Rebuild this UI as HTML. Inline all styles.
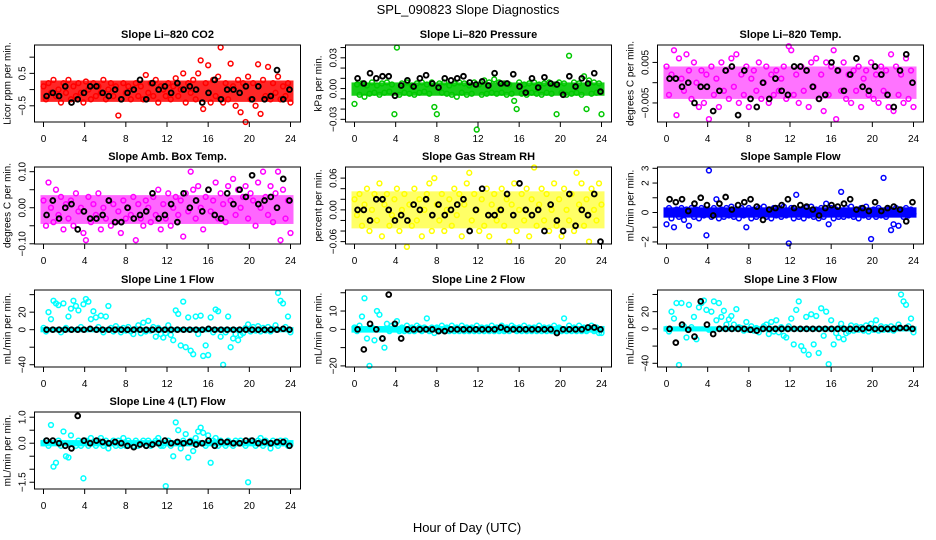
<!DOCTYPE html>
<html><head><meta charset="utf-8">
<style>
html,body{margin:0;padding:0;background:#fff;}
svg{display:block;font-family:"Liberation Sans",sans-serif;}
</style></head>
<body>
<svg id="fig" width="936" height="540" viewBox="0 0 936 540" xmlns="http://www.w3.org/2000/svg">
<rect width="936" height="540" fill="#fff"/>
<text x="468" y="14" text-anchor="middle" font-size="13">SPL_090823  Slope Diagnostics</text>
<text x="467" y="532" text-anchor="middle" font-size="13">Hour of Day (UTC)</text>
</svg>
<script>
const xTicks = [0,4,8,12,16,20,24];

const co2Vals = [0.1,-0.3,0.2,-0.1,0.3,-0.2,0.0,-0.4,0.2,-0.1,0.3,-0.3,0.1,-0.2,0.2,-0.1,-0.4,0.25,0.0,-0.3,0.2,-0.2,0.1,-0.1,0.3,-0.3,0.0,0.2,-0.2,0.1,-0.8,-0.3,0.2,-0.1,0.1,-0.3,0.0,0.2,-0.2,0.1,-0.3,0.45,-0.1,0.2,-0.2,0.3,-0.4,0.1,0.0,-0.2,0.2,-0.3,0.1,0.35,-0.2,0.0,0.5,-0.4,0.2,-0.1,0.3,-0.3,0.5,0.9,-0.6,0.2,0.75,-0.4,0.3,-0.2,0.4,1.3,-0.4,0.2,-0.3,0.8,0.1,-0.5,0.3,-0.7,0.2,-1.0,0.4,-0.3,0.2,-0.5,0.78,-0.75,0.3,-0.2,0.7,-0.3,0.2,-0.1,0.4,-0.3,0.1,-0.2,0.2,-0.4];
const co2Black = [-0.2,-0.1,-0.2,0.1,-0.4,-0.3,-0.1,0.1,0.1,-0.1,-0.2,0.0,-0.3,-0.1,0.0,0.3,-0.3,0.2,0.0,0.1,-0.1,0.2,0.0,0.1,0.0,-0.4,-0.1,0.3,-0.3,0.0,0.0,-0.1,0.1,-0.3,0.1,-0.3,-0.2,0.6,-0.3,0.0];
const co2Band = [-0.38,0.28];

const presVals = [-0.015,0.004,-0.006,0.005,-0.008,0.003,-0.005,0.006,-0.004,0.003,-0.006,0.005,-0.004,0.006,-0.003,0.004,-0.025,0.04,-0.006,0.005,-0.004,0.006,-0.005,0.003,-0.006,0.005,-0.004,0.006,-0.003,0.004,-0.005,0.006,-0.018,-0.025,0.005,-0.004,0.006,-0.005,0.003,-0.006,0.005,-0.008,0.006,-0.004,0.005,-0.006,0.003,-0.005,0.006,-0.04,0.004,-0.006,0.008,-0.005,0.006,-0.004,0.009,-0.005,0.006,-0.004,0.005,-0.006,0.004,-0.005,-0.012,-0.02,0.006,-0.005,0.004,-0.006,0.005,-0.004,0.006,-0.005,0.004,-0.006,0.005,-0.004,0.006,-0.005,0.004,-0.025,0.006,-0.004,0.005,-0.006,0.032,-0.005,0.006,-0.004,0.005,-0.006,0.012,-0.02,0.008,-0.005,0.006,-0.004,0.005,-0.025];
const presBlack = [0.01,0.005,0.015,0.01,0.012,0.012,-0.007,0.003,0.008,0.002,0.01,0.013,0.005,0.001,0.01,0.008,0.01,0.012,0.006,0.004,0.007,0.003,0.015,0.005,0.005,0.014,0.002,-0.004,0.01,0.001,0.011,0.005,0.004,-0.006,0.012,0.002,0.01,0.005,0.015,-0.003];
const presBand = [-0.007,0.006];

const tempVals = [0.004,-0.003,0.002,0.008,-0.008,0.006,0.001,-0.002,0.007,0.003,-0.004,0.005,0.0,-0.006,0.003,-0.005,0.002,-0.009,0.004,-0.003,0.001,-0.006,0.005,-0.002,0.003,-0.004,0.006,-0.001,0.007,-0.005,0.002,-0.003,0.004,-0.006,0.001,0.003,-0.002,0.005,-0.004,0.0,0.004,-0.005,0.002,-0.003,0.003,-0.002,0.001,0.004,-0.004,0.009,0.008,-0.003,0.002,-0.005,0.004,-0.002,0.003,-0.006,0.005,-0.001,0.006,-0.004,0.002,-0.007,0.005,-0.003,0.004,0.008,-0.009,0.003,-0.002,0.005,-0.004,0.002,-0.005,0.003,-0.002,0.004,-0.006,0.001,0.003,-0.003,0.005,-0.004,0.002,-0.005,0.004,-0.002,0.003,-0.006,0.007,-0.007,0.004,-0.003,0.002,-0.005,0.006,-0.004,0.003,-0.006];
const tempBlack = [0.001,0.001,-0.001,0.0,-0.005,-0.001,-0.001,-0.007,-0.002,0.003,0.004,-0.008,0.003,-0.004,-0.006,0.0,-0.004,0.001,-0.002,-0.003,0.004,0.004,0.003,-0.001,-0.004,-0.003,0.005,0.003,-0.002,0.002,0.006,-0.001,-0.002,0.004,0.002,-0.003,-0.006,0.003,0.007,0.0];
const tempBand = [-0.004,0.004];

const ambVals = [0.02,-0.05,0.07,0.0,-0.04,0.05,-0.02,0.03,-0.06,0.01,-0.03,0.02,-0.05,0.04,-0.01,0.0,-0.07,-0.09,0.03,-0.04,0.01,-0.02,0.04,-0.06,0.0,-0.03,0.02,-0.05,0.01,-0.04,-0.01,-0.07,0.02,-0.03,0.0,-0.02,0.03,-0.09,0.01,-0.03,-0.05,0.02,0.0,-0.04,0.03,-0.02,0.05,-0.06,0.01,-0.03,0.04,-0.05,0.0,0.03,-0.02,0.02,-0.08,0.04,-0.01,0.1,0.05,-0.03,0.06,0.0,-0.06,0.03,0.05,-0.01,0.02,0.07,-0.03,0.04,0.01,-0.04,0.06,0.02,0.08,-0.02,0.05,0.0,0.03,0.06,-0.03,0.04,0.02,-0.05,0.07,0.0,0.1,0.03,-0.02,0.06,-0.04,0.04,0.1,-0.09,0.05,-0.03,0.02,-0.07];
const ambBlack = [-0.02,0.02,-0.03,0.0,0.01,-0.06,-0.01,-0.03,-0.03,-0.02,0.02,-0.04,-0.04,0.0,-0.03,-0.02,-0.01,0.04,-0.03,-0.02,0.01,-0.04,0.04,0.0,0.02,-0.01,0.05,-0.02,-0.03,0.04,0.01,0.05,0.03,0.09,0.01,0.02,0.03,0.0,0.08,0.02];
const ambBand = [-0.045,0.035];

const rhVals = [0.02,-0.01,0.03,-0.03,0.01,0.04,-0.04,0.0,0.03,-0.02,0.05,-0.05,0.01,0.03,-0.03,-0.01,0.02,0.04,-0.04,0.0,0.03,-0.07,0.01,-0.03,0.04,-0.02,0.02,-0.05,0.0,0.03,0.05,-0.04,0.06,0.01,-0.02,0.03,-0.04,0.0,0.02,-0.03,0.04,-0.01,0.03,-0.05,0.01,0.05,0.07,-0.02,0.03,0.0,-0.04,0.02,-0.03,0.04,-0.05,0.01,0.03,-0.02,0.0,0.04,-0.03,0.02,-0.06,0.01,0.05,-0.04,0.0,0.03,-0.02,0.04,-0.05,0.02,0.08,-0.03,0.01,0.04,-0.02,0.03,-0.04,0.0,0.05,-0.03,0.02,-0.05,0.04,0.0,-0.02,0.03,-0.04,0.07,0.01,0.05,-0.03,0.02,-0.06,0.04,0.0,-0.02,0.05,0.01];
const rhBlack = [0.0,0.0,-0.02,0.02,0.02,0.0,-0.02,-0.01,-0.02,0.01,0.0,0.02,-0.01,0.01,-0.01,0.0,0.01,0.02,-0.04,0.0,0.04,-0.01,-0.01,0.0,0.03,-0.01,0.05,0.0,-0.01,0.0,-0.04,0.01,-0.02,-0.04,0.03,-0.03,0.0,-0.01,0.03,-0.06];
const rhBand = [-0.035,0.035];

const flowVals = [-0.8,0.3,-0.4,-1.0,0.2,-0.3,0.3,-0.5,0.2,-0.9,0.3,-0.3,0.2,-0.4,0.3,-0.2,-1.55,2.85,-0.3,0.3,0.9,-0.4,0.2,-0.3,0.3,-0.2,0.4,-0.3,0.2,-0.4,0.3,-0.2,-1.0,0.3,-0.4,0.2,-0.3,0.3,-0.2,0.4,-0.3,0.2,-0.4,0.3,-0.2,0.3,-0.3,0.4,-0.2,-2.1,0.3,-0.4,1.2,-0.3,0.2,-0.4,0.3,-0.2,0.4,-0.3,0.2,-0.4,0.3,-0.3,0.6,-0.8,0.3,-0.4,0.2,-0.3,1.4,-0.3,0.3,-0.2,0.4,-0.3,0.2,-0.4,0.3,-0.2,0.4,-0.3,-1.8,0.2,-0.3,0.3,-0.2,2.35,-0.3,0.2,-1.2,-0.8,0.3,-0.9,0.2,-0.3,0.3,-0.2,0.2,-0.1];
const flowBlack = [0.9,0.7,0.9,0.1,0.6,1.0,0.5,-0.2,0.6,1.05,0.2,0.5,0.7,0.9,0.4,-0.5,0.2,0.3,0.5,0.9,0.3,0.5,0.4,0.2,-0.2,0.3,0.5,0.4,0.6,0.9,0.2,0.3,0.1,0.7,0.1,0.3,0.4,0.2,-0.6,0.7];
const flowBand = [-0.35,0.35];

const line1Vals = [2,-2,20,12,33,30,28,-3,30,2,15,24,33,27,22,3,29,35,32,12,21,14,3,16,-3,15,27,2,-2,4,1,-3,2,-1,3,-2,-5,1,5,-4,8,-2,10,-1,3,-8,2,-5,-9,-4,5,-6,-12,22,18,-18,32,-20,14,-24,-28,15,-5,16,-30,-18,-29,14,-3,23,21,-8,-40,-3,15,-20,-10,-5,-12,-6,-4,2,6,-2,3,-1,4,-2,2,-1,3,-2,1,5,42,33,30,3,15,-3];
const line1Black = [0,0,0,0,0,0,0,1,0,0,0,0,0,0,0,0,0,0,0,0,0,0,0,0,0,0,1,0,0,0,0,0,0,0,0,0,0,0,1,0];
const line1Band = [-3,3];

const line2Vals = [1,-1,2,7,17,-5,-20,1,-6,10,8,-5,-10,3,-1,2,1,4.5,-1,1,-1,2,-1,1,-1,2,1,-1,1,6,-1,1,-2,1,-1,2,-1,1,-1,2,-1,1,-1,2,-1,1,-1,1,-1,2,-1,1,-1,1,-1,2,-1,1,-1,2,-1,1,-1,2,1,-1,1,-1,2,-1,1,-1,1,-1,2,-1,1,-1,1,-1,2,-1,1,-1,6,-1,2,-1,1,-1,2,-1,1,-1,1,2,-1,1,-2,-2];
const line2Black = [0,-11,3,0,-5,19,3,-5,0,0,0,0,0,-1,-1,0,0,0,0,0,0,0,0,1,0,0,0,0,0,0,0,0,-2,0,0,0,0,1,1,0];
const line2Band = [-1.8,1.8];

const line3Vals = [0,-3,20,12,30,-42,30,3,-10,28,2,14,-12,25,30,33,22,-1,20,32,10,30,14,21,5,11,15,5,23,2,1,-2,8,-1,3,-2,1,-4,0,3,5,-6,8,-3,10,-4,2,-8,-10,3,12,-18,22,32,-20,-25,14,-30,17,-18,15,-28,24,-8,20,-41,10,-18,-5,-10,6,-12,-5,-3,4,-2,3,-1,2,-2,4,-3,6,-1,10,-2,3,-1,2,-1,3,-2,1,5,40,32,28,3,12,-4];
const line3Black = [0,-16,5,-1,-9,32,5,-6,0,0,0,0,0,-1,-2,0,0,0,0,0,0,0,0,0,0,0,0,0,0,0,0,0,1,0,0,0,0,1,1,0];
const line3Band = [-3,3];

const line4Vals = [0.0,0.1,-0.1,0.7,-0.9,-0.75,0.1,-0.1,0.45,-0.5,-0.55,0.3,0.0,-0.1,0.1,-0.1,-1.35,0.1,-0.1,0.2,0.0,-0.1,0.1,0.2,-0.1,0.1,-0.2,0.0,0.1,-0.1,0.1,-0.1,0.2,-0.1,0.1,0.0,-0.1,0.1,-0.1,0.0,0.1,-0.1,0.1,-0.1,0.0,0.1,0.2,-0.1,-0.1,-1.65,0.1,-0.1,-0.5,0.8,0.5,-0.2,0.1,0.35,-0.55,0.1,-0.3,0.2,0.45,0.6,0.4,-0.1,0.3,-0.75,0.1,0.2,-0.1,0.1,0.0,-0.1,0.1,0.0,-0.1,0.1,0.0,0.1,0.0,-0.1,-1.5,0.1,0.0,-0.1,0.1,0.2,-0.1,0.1,0.0,-0.2,0.1,0.0,-0.1,0.1,0.0,0.1,-0.1,0.0];
const line4Black = [0.1,0.1,0.0,-0.1,-0.2,1.05,0.1,0.0,0.1,0.05,0.0,0.05,0.0,-0.1,-0.15,-0.05,-0.1,-0.05,0.0,0.1,0.0,0.05,0.0,0.05,-0.05,0.0,0.1,-0.1,0.05,0.05,0.0,0.0,0.1,0.1,0.0,0.05,0.0,0.05,0.05,-0.1];
const line4Band = [-0.12,0.12];

const panels = [
 {name:'co2',title:'Slope Li\u2013820 CO2',ylab:'Licor ppm per min.',col:0,row:0,color:'#ff0000',vals:co2Vals,blk:co2Black,band:co2Band,bo:0.85,ymin:-1.0,ymax:1.375,ticks:[-0.5,0,0.5,1.0],labels:['-0.5','','0.5','']},
 {name:'pressure',title:'Slope Li\u2013820 Pressure',ylab:'kPa per min.',col:1,row:0,color:'#00c800',vals:presVals,blk:presBlack,band:presBand,bo:0.9,ymin:-0.0326,ymax:0.0425,ticks:[-0.03,-0.02,-0.01,0,0.01,0.02,0.03,0.04],labels:['-0.03','','','0.00','','','0.03','']},
 {name:'temp',title:'Slope Li\u2013820 Temp.',ylab:'degrees C per min.',col:2,row:0,color:'#ff00ff',vals:tempVals,blk:tempBlack,band:tempBand,bo:0.55,ymin:-0.0097,ymax:0.0093,ticks:[-0.005,0,0.005],labels:['-0.005','','0.005']},
 {name:'amb-box-temp',title:'Slope Amb. Box Temp.',ylab:'degrees C per min.',col:0,row:1,color:'#ff00ff',vals:ambVals,blk:ambBlack,band:ambBand,bo:0.6,ymin:-0.1006,ymax:0.113,ticks:[-0.1,-0.05,0,0.05,0.1],labels:['-0.10','','0.00','','0.10']},
 {name:'gas-stream-rh',title:'Slope Gas Stream RH',ylab:'percent per min.',col:1,row:1,color:'#ffff00',vals:rhVals,blk:rhBlack,band:rhBand,bo:0.6,ymin:-0.0645,ymax:0.081,ticks:[-0.06,-0.04,-0.02,0,0.02,0.04,0.06],labels:['-0.06','','','0.00','','','0.06']},
 {name:'sample-flow',title:'Slope Sample Flow',ylab:'mL/min per min.',col:2,row:1,color:'#0000ff',vals:flowVals,blk:flowBlack,band:flowBand,bo:1,ymin:-2.14,ymax:3.09,ticks:[-2,-1,0,1,2,3],labels:['-2','','0','','2','3']},
 {name:'line1-flow',title:'Slope Line 1 Flow',ylab:'mL/min per min.',col:0,row:2,color:'#00ffff',vals:line1Vals,blk:line1Black,band:line1Band,bo:1,ymin:-42.6,ymax:45.3,ticks:[-40,-20,0,20,40],labels:['-40','','0','20','']},
 {name:'line2-flow',title:'Slope Line 2 Flow',ylab:'mL/min per min.',col:1,row:2,color:'#00ffff',vals:line2Vals,blk:line2Black,band:line2Band,bo:1,ymin:-20.6,ymax:21.5,ticks:[-20,-10,0,10,20],labels:['-20','','0','10','']},
 {name:'line3-flow',title:'Slope Line 3 Flow',ylab:'mL/min per min.',col:2,row:2,color:'#00ffff',vals:line3Vals,blk:line3Black,band:line3Band,bo:1,ymin:-44.3,ymax:45.2,ticks:[-40,-20,0,20,40],labels:['-40','','0','20','']},
 {name:'line4-lt-flow',title:'Slope Line 4 (LT) Flow',ylab:'mL/min per min.',col:0,row:3,color:'#00ffff',vals:line4Vals,blk:line4Black,band:line4Band,bo:1,ymin:-1.76,ymax:1.2,ticks:[-1.5,-1.0,-0.5,0,0.5,1.0],labels:['-1.5','','','0.0','','1.0']}
];

const NS='http://www.w3.org/2000/svg';
const svg=document.getElementById('fig');
const colLeft=[34.5,345.5,657.5], rowTop=[45,167,290,412], W=266, H=77;
function mk(tag,attrs,parent){const e=document.createElementNS(NS,tag);for(const k in attrs)e.setAttribute(k,attrs[k]);parent.appendChild(e);return e;}

panels.forEach(p=>{
  const L=colLeft[p.col], T=rowTop[p.row], B=T+H, R=L+W;
  const xs=h=>L+9+h*(247/24);
  const ys=v=>B-(v-p.ymin)/(p.ymax-p.ymin)*H;
  const g=mk('g',{},svg);
  
  
  const t=mk('text',{x:L+W/2,y:T-7,'text-anchor':'middle','font-size':11,'font-weight':'bold'},g);
  t.textContent=p.title;
  
  
  const yl=mk('text',{x:0,y:0,'text-anchor':'middle','font-size':10,transform:`translate(${L-24},${T+H/2}) rotate(-90)`},g);
  yl.textContent=p.ylab;
  
  
  // dense band of overlapping points
  const band=mk('rect',{x:xs(0)-3,y:ys(p.band[1]),width:xs(24)-xs(0)+6,height:ys(p.band[0])-ys(p.band[1]),fill:p.color,'fill-opacity':p.bo},g);
  
  
  const pts=mk('g',{fill:'none','stroke-width':1.5},g);
  
  
  p.vals.forEach((v,i)=>{
    const c=mk('circle',{cx:xs(i*24/(p.vals.length-1)),cy:ys(v),r:2.4,stroke:p.color},pts);
    
    
  });
  const bp=mk('g',{fill:'none','stroke-width':1.9},g);
  
  
  p.blk.forEach((v,i)=>{
    const c=mk('circle',{cx:xs(0.3+i*23.6/(p.blk.length-1)),cy:ys(v),r:2.4,stroke:'#000'},bp);
    
    
  });
  const box=mk('rect',{x:L,y:T,width:W,height:H,fill:'none',stroke:'#000','stroke-width':1},g);
  
  
  xTicks.forEach(h=>{
    mk('line',{x1:xs(h),x2:xs(h),y1:B,y2:B+5,stroke:'#000'},g);
    const tl=mk('text',{x:xs(h),y:B+20,'text-anchor':'middle','font-size':10},g);
    tl.textContent=h;
    
    
  });
  p.ticks.forEach((v,i)=>{
    mk('line',{x1:L-5,x2:L,y1:ys(v),y2:ys(v),stroke:'#000'},g);
    if(p.labels[i]){
      const tl=mk('text',{x:0,y:0,'text-anchor':'middle','font-size':10,transform:`translate(${L-9},${ys(v)}) rotate(-90)`},g);
      tl.textContent=p.labels[i].replace('-','\u2212');
      
      
    }
  });
});
</script>
</body></html>
